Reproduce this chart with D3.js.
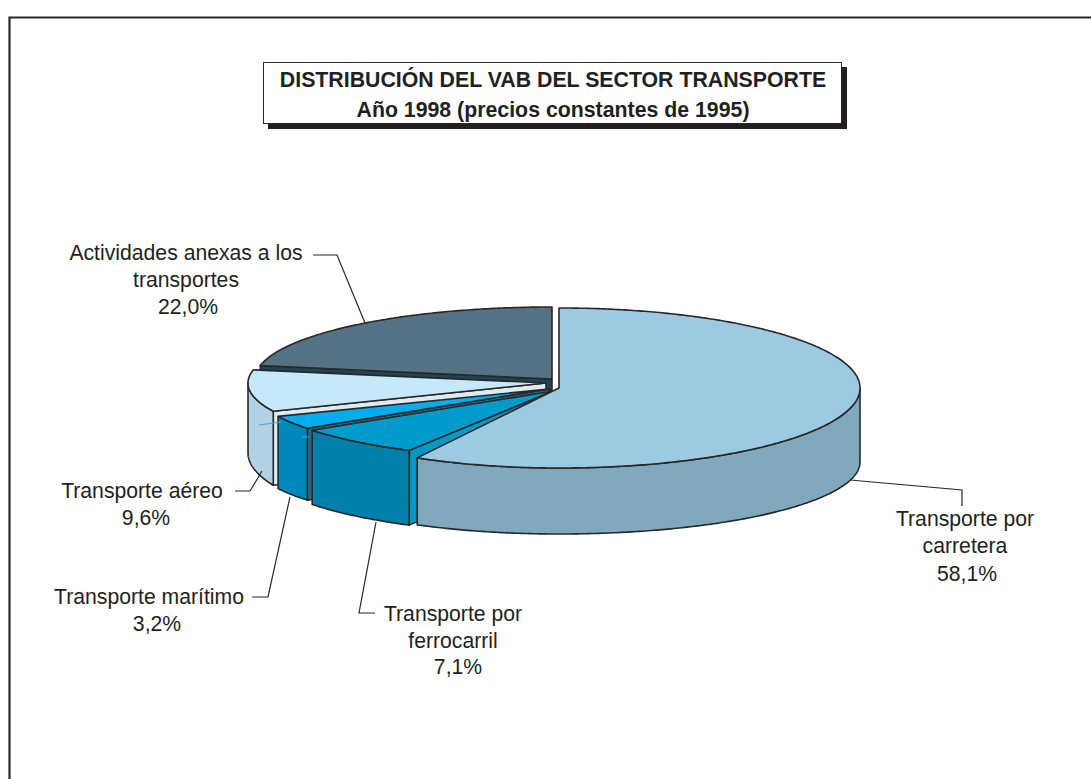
<!DOCTYPE html>
<html><head><meta charset="utf-8">
<script src="https://cdn.jsdelivr.net/npm/d3@7"></script>
<style>html,body{margin:0;padding:0;background:#fff}svg{display:block}text{font-family:"Liberation Sans",Arial,sans-serif;fill:#231f20}</style>
</head><body><div id="c"></div>
<script>
// ---- data ----
const categories = ["Transporte por carretera","Transporte por ferrocarril","Transporte marítimo","Transporte aéreo","Actividades anexas a los transportes"];
const shares = [58.1,7.1,3.2,9.6,22.0];
const shareLabels = ["58,1%","7,1%","3,2%","9,6%","22,0%"];
const titleLines = ["DISTRIBUCIÓN DEL VAB DEL SECTOR TRANSPORTE","Año 1998 (precios constantes de 1995)"];
// ---- colours ----
const topColors  = ["#9bcae2","#009bcb","#00aeef","#c6e8fb","#557284"];
const wallColors = ["#81a9bd","#007fa9","#0088bd","#b2d2e3","#1f4455"];
const faceColors = ["#81a9bd","#0099c6","#1f6f8f","#dcecf5","#1f4455"];
// ---- layout (not data) ----
const W=1091,H=779;
const geometry = [
 {cx:559,cy:388,rxR:301,rxL:291,ry:80,depth:74,ryB:72},
 {cx:553,cy:391,rxR:295,rxL:295,ry:68,depth:73,ryB:70},
 {cx:549,cy:389,rxR:296,rxL:296,ry:68,depth:73,ryB:66},
 {cx:546,cy:383,rxR:298,rxL:298,ry:70,depth:70,ryB:80},
 {cx:552,cy:379,rxR:297,rxL:297,ry:72,depth:12,ryB:72}
];
const labelLayout = [
 {x:965,lines:[[526,"Transporte por"],[553,"carretera"]],pct:[967,581]},
 {x:453,lines:[[621,"Transporte por"],[648,"ferrocarril"]],pct:[458,674]},
 {x:149,lines:[[604,"Transporte marítimo"]],pct:[157,631]},
 {x:142,lines:[[498,"Transporte aéreo"]],pct:[146,525]},
 {x:186,lines:[[260,"Actividades anexas a los"],[287,"transportes"]],pct:[188,314]}
];
const leaders = [
 [[850,480],[962,490],[962,506]],
 [[375,613],[359,613],[376,522]],
 [[252,597],[268,597],[290,497]],
 [[235,491],[250,491],[262,471]],
 [[313,255],[337,255],[365,323]]
];
const strays = [[[259,425],[281,422]],[[302,437],[309,437]]];

const svg=d3.select("#c").append("svg").attr("width",W).attr("height",H);
const ink="#2a2728";

// frame open on the right and bottom
svg.append("path").attr("d",`M9.5 ${H} V17.5 H${W}`).attr("fill","none").attr("stroke",ink).attr("stroke-width",2.2);

// title box
svg.append("rect").attr("x",268).attr("y",67).attr("width",579).attr("height",62).attr("fill","#231f20");
svg.append("rect").attr("x",263.5).attr("y",62.5).attr("width",578).attr("height",61).attr("fill","#fff").attr("stroke",ink).attr("stroke-width",1);
svg.selectAll("text.title").data(titleLines).join("text").attr("class","title")
  .attr("x",553).attr("y",(d,i)=>87+i*30).attr("text-anchor","middle")
  .attr("font-size",21.3).attr("font-weight",700).text(d=>d);

// pie angles
const arcs=d3.pie().sort(null).value(d=>d)(shares);
const lineGen=d3.line();
function px(g,a){const s=Math.sin(a);return g.cx+(s>=0?g.rxR:g.rxL)*s;}
function topPt(g,a){return [px(g,a),g.cy-g.ry*Math.cos(a)];}
function botPt(g,a){return [px(g,a),g.cy+g.depth-g.ryB*Math.cos(a)];}
function samples(a0,a1){const n=Math.max(2,Math.ceil((a1-a0)/0.01));return d3.range(n+1).map(i=>a0+(a1-a0)*i/n);}

// back to front: last slice first
const layer=svg.append("g").attr("stroke",ink).attr("stroke-width",1.6).attr("stroke-linejoin","round");
d3.range(arcs.length).reverse().forEach(i=>{
  const g=geometry[i],a=arcs[i];
  // radial cut face at the slice's start
  if(Math.sin(a.startAngle)<-0.01){
    layer.append("path").attr("fill",faceColors[i]).attr("d",lineGen([[g.cx,g.cy],topPt(g,a.startAngle),botPt(g,a.startAngle),[g.cx,g.cy+g.depth]])+"Z");
  }
  // outer wall: only the part turned to the viewer
  const v0=Math.max(a.startAngle,Math.PI/2),v1=Math.min(a.endAngle,3*Math.PI/2);
  if(v1>v0){
    const t=samples(v0,v1);
    layer.append("path").attr("fill",wallColors[i])
      .attr("d",lineGen(t.map(x=>topPt(g,x)).concat(t.slice().reverse().map(x=>botPt(g,x))))+"Z");
  }
  // top face
  layer.append("path").attr("fill",topColors[i])
    .attr("d",lineGen([[g.cx,g.cy]].concat(samples(a.startAngle,a.endAngle).map(x=>topPt(g,x))))+"Z");
});

// stray light strokes in the artwork
svg.selectAll("path.stray").data(strays).join("path").attr("class","stray")
  .attr("d",d=>lineGen(d)).attr("fill","none").attr("stroke","#2fb4e6").attr("stroke-width",1);

// leader lines
svg.selectAll("path.leader").data(leaders).join("path").attr("class","leader")
  .attr("d",d=>lineGen(d)).attr("fill","none").attr("stroke",ink).attr("stroke-width",1.2);

// labels
labelLayout.forEach((l,i)=>{
  l.lines.forEach(([y,t])=>svg.append("text").attr("x",l.x).attr("y",y).attr("text-anchor","middle").attr("font-size",21.2).text(t));
  svg.append("text").attr("x",l.pct[0]).attr("y",l.pct[1]).attr("text-anchor","middle").attr("font-size",21.2).text(shareLabels[i]);
});
</script></body></html>
